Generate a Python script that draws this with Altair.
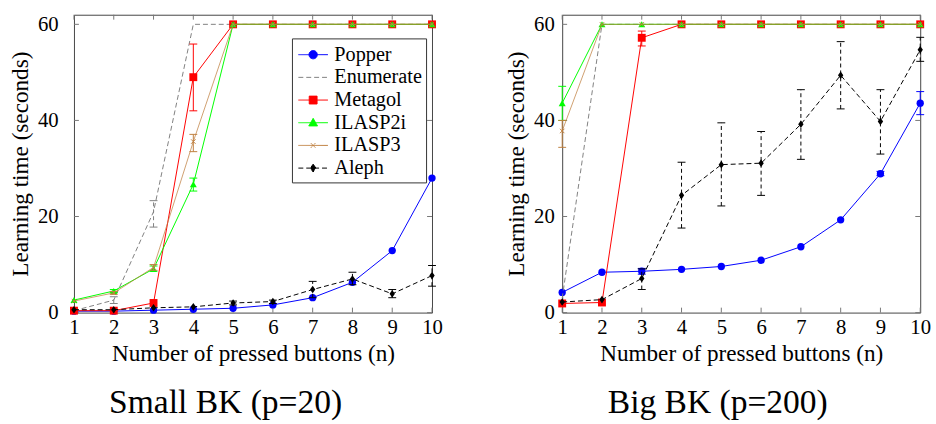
import altair as alt
import pandas as pd

N = list(range(1, 11))
METHODS = ["Popper", "Enumerate", "Metagol", "ILASP2i", "ILASP3", "Aleph"]
COLORS = ["#0000ff", "#808080", "#ff0000", "#00ff00", "#bf8040", "#000000"]
YTICKS = [0, 20, 40, 60]

# ---- Small BK (p=20) ----
popper_small = [0.3, 0.3, 0.5, 0.7, 0.9, 1.6, 3.1, 6.3, 12.9, 28.0]
enumerate_small = [0.4, 2.6, 21.0, 60, 60, 60, 60, 60, 60, 60]
metagol_small = [0.4, 0.4, 2.0, 49.0, 60, 60, 60, 60, 60, 60]
ilasp2i_small = [2.6, 4.5, 9.1, 26.7, 60, 60, 60, 60, 60, 60]
ilasp3_small = [2.4, 4.1, 9.4, 35.6, 60, 60, 60, 60, 60, 60]
aleph_small = [0.6, 0.6, 1.0, 1.2, 2.0, 2.3, 4.8, 7.0, 3.9, 7.7]
errors_small = [
    ("Enumerate", 2, 1.9, 3.3), ("Enumerate", 3, 17.8, 23.3),
    ("Metagol", 4, 42.0, 55.9),
    ("ILASP2i", 2, 4.2, 4.8), ("ILASP2i", 3, 8.6, 9.7), ("ILASP2i", 4, 25.3, 28.0),
    ("ILASP3", 2, 3.8, 4.4), ("ILASP3", 3, 8.8, 10.0), ("ILASP3", 4, 33.5, 37.1),
    ("Aleph", 5, 1.6, 2.4), ("Aleph", 6, 1.9, 2.6), ("Aleph", 7, 3.1, 6.5),
    ("Aleph", 8, 5.8, 8.4), ("Aleph", 9, 3.1, 4.8), ("Aleph", 10, 5.5, 9.8),
]

# ---- Big BK (p=200) ----
popper_big = [4.2, 8.4, 8.6, 9.0, 9.6, 10.9, 13.7, 19.3, 28.9, 43.6]
enumerate_big = [3.0, 60, 60, 60, 60, 60, 60, 60, 60, 60]
metagol_big = [1.9, 2.1, 57.2, 60, 60, 60, 60, 60, 60, 60]
ilasp2i_big = [43.6, 60, 60, 60, 60, 60, 60, 60, 60, 60]
ilasp3_big = [37.8, 60, 60, 60, 60, 60, 60, 60, 60, 60]
aleph_big = [2.2, 2.7, 7.1, 24.4, 30.8, 31.1, 39.2, 49.4, 39.8, 54.7]
errors_big = [
    ("Popper", 3, 8.0, 9.2), ("Popper", 9, 28.5, 29.4), ("Popper", 10, 41.2, 46.0),
    ("Metagol", 3, 55.5, 58.6),
    ("ILASP2i", 1, 40.0, 47.1),
    ("ILASP3", 1, 34.4, 40.0),
    ("Aleph", 3, 4.8, 9.1), ("Aleph", 4, 17.6, 31.3), ("Aleph", 5, 22.2, 39.5),
    ("Aleph", 6, 24.4, 37.7), ("Aleph", 7, 31.9, 46.4), ("Aleph", 8, 42.4, 56.4),
    ("Aleph", 9, 33.0, 46.4), ("Aleph", 10, 52.3, 57.3),
]

SERIF = "Liberation Serif"
W, H = 363, 302
TICK_LEN = 5
TICK_COLOR = "#777777"
DASH = {"Enumerate": [5, 3], "Aleph": [5, 3]}
LINE_OPACITY = {"ILASP3": 0.75}
MARKERS = {
    "Popper": dict(shape="circle", size=55, filled=True),
    "Metagol": dict(shape="square", size=64, filled=True),
    "ILASP2i": dict(shape="triangle-up", size=50, filled=True),
    "ILASP3": dict(shape="M-1,-1L1,1M-1,1L1,-1", size=20, filled=False),
    "Aleph": dict(shape="M0,-1L0.7,0L0,1L-0.7,0Z", size=60, filled=True),
}
LINE = "M-1.28,0H1.28"
LEGEND_SHAPES = [
    LINE + "M-0.36,0A0.36,0.36,0,1,0,0.36,0A0.36,0.36,0,1,0,-0.36,0Z",
    LINE,
    LINE + "M-0.34,-0.34H0.34V0.34H-0.34Z",
    LINE + "M0,-0.38L0.38,0.28L-0.38,0.28Z",
    LINE + "M-0.2,-0.2L0.2,0.2M-0.2,0.2L0.2,-0.2",
    LINE + "M0,-0.34L0.24,0L0,0.34L-0.24,0Z",
]
LEGEND_DASH = [[1, 0], [5, 3], [1, 0], [1, 0], [1, 0], [5, 3]]


def build_panel(series, errors, subtitle, with_legend, label_pad):
    df = pd.DataFrame(
        [{"method": m, "n": n, "t": v} for m, vals in zip(METHODS, series) for n, v in zip(N, vals)]
    )
    edf = pd.DataFrame(errors, columns=["method", "n", "lo", "hi"])
    xs = alt.Scale(domain=[1, 10], nice=False, zero=False)
    ys = alt.Scale(domain=[0, 62], nice=False, zero=False)
    xax = alt.Axis(values=N, title="Number of pressed buttons (n)", labelFlush=False, format="d")
    yax = alt.Axis(values=YTICKS, title="Learning time (seconds)", labelPadding=label_pad)

    def X(f):
        return alt.X(f"{f}:Q", scale=xs, axis=xax)

    def Y(f):
        return alt.Y(f"{f}:Q", scale=ys, axis=yax)

    layers = []
    xt = alt.Chart(pd.DataFrame({"n": N})).mark_rule(color=TICK_COLOR, strokeWidth=1)
    layers.append(xt.encode(x=X("n"), y=alt.value(H), y2=alt.value(H - TICK_LEN)))
    layers.append(xt.encode(x=X("n"), y=alt.value(0), y2=alt.value(TICK_LEN)))
    yt = alt.Chart(pd.DataFrame({"t": YTICKS})).mark_rule(color=TICK_COLOR, strokeWidth=1)
    layers.append(yt.encode(y=Y("t"), x=alt.value(0), x2=alt.value(TICK_LEN)))
    layers.append(yt.encode(y=Y("t"), x=alt.value(W), x2=alt.value(W - TICK_LEN)))

    for m, c in zip(METHODS, COLORS):
        base = alt.Chart(df).transform_filter(alt.datum.method == m)
        lk = dict(color=c, strokeWidth=1, opacity=LINE_OPACITY.get(m, 1))
        if m in DASH:
            lk["strokeDash"] = DASH[m]
        layers.append(base.mark_line(**lk).encode(x=X("n"), y=Y("t")))
        e = edf[edf["method"] == m]
        if len(e):
            eb = alt.Chart(e.reset_index(drop=True))
            rk = dict(color=c, strokeWidth=1)
            if m in DASH:
                rk["strokeDash"] = [4, 3]
            layers.append(eb.mark_rule(**rk).encode(x=X("n"), y=Y("lo"), y2=alt.Y2("hi:Q")))
            for f in ("lo", "hi"):
                layers.append(
                    eb.mark_tick(orient="horizontal", size=8, thickness=1, color=c, opacity=1)
                    .encode(x=X("n"), y=Y(f))
                )
        if m in MARKERS:
            mk = MARKERS[m]
            layers.append(
                base.mark_point(
                    shape=mk["shape"], size=mk["size"], filled=mk["filled"],
                    color=c, opacity=1, strokeWidth=1,
                ).encode(x=X("n"), y=Y("t"))
            )

    if with_legend:
        legend = alt.Legend(
            orient="none", legendX=221, legendY=24, title=None,
            symbolSize=548, symbolStrokeWidth=1, symbolOffset=5,
            labelFont=SERIF, labelFontSize=20.5, labelOffset=9, labelLimit=0,
            padding=4, rowPadding=0, strokeColor="#333333", fillColor="white",
            labelColor="black",
        )
        cs = alt.Scale(domain=METHODS, range=COLORS)
        layers.append(
            alt.Chart(df)
            .transform_filter("false")
            .mark_point(filled=True, opacity=1, strokeWidth=1)
            .encode(
                x=X("n"), y=Y("t"),
                color=alt.Color("method:N", scale=cs, legend=legend),
                stroke=alt.Stroke("method:N", scale=cs, legend=legend),
                shape=alt.Shape("method:N", scale=alt.Scale(domain=METHODS, range=LEGEND_SHAPES), legend=legend),
                strokeDash=alt.StrokeDash("method:N", scale=alt.Scale(domain=METHODS, range=LEGEND_DASH), legend=legend),
            )
        )

    title = alt.TitleParams(
        text=subtitle, orient="bottom", anchor="middle", frame="bounds",
        fontSize=34, font=SERIF, fontWeight="normal", offset=21, color="black",
    )
    return alt.layer(*layers).properties(width=W, height=H, title=title)


left = build_panel(
    [popper_small, enumerate_small, metagol_small, ilasp2i_small, ilasp3_small, aleph_small],
    errors_small, "Small BK (p=20)", True, 16,
)
right = build_panel(
    [popper_big, enumerate_big, metagol_big, ilasp2i_big, ilasp3_big, aleph_big],
    errors_big, "Big BK (p=200)", False, 8,
)

chart = (
    alt.hconcat(left, right, spacing=62)
    .properties(padding={"left": 8, "top": 10, "right": 5, "bottom": 0}, background="white")
    .configure_view(stroke="#444444", strokeWidth=1)
    .configure_axis(
        labelFont=SERIF, labelFontSize=21, titleFont=SERIF, titleFontSize=23.5,
        titleFontWeight="normal", ticks=False, domain=False, grid=False,
        labelColor="black", titleColor="black",
    )
    .configure_axisX(labelPadding=4, titlePadding=5)
    .configure_axisY(titlePadding=5)
)

chart.save("out.html", embed_options={"renderer": "svg", "actions": False})
